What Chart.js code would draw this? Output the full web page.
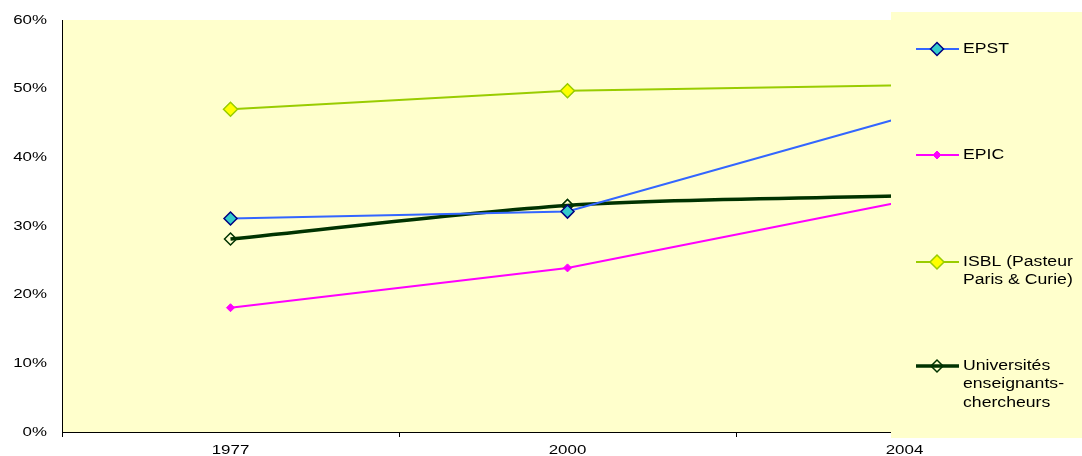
<!DOCTYPE html>
<html>
<head>
<meta charset="utf-8">
<script src="https://cdn.jsdelivr.net/npm/chart.js@4"></script>
<style>
  body { margin: 0; background: #fff; }
  #wrap { width: 1082px; height: 456px; }
</style>
</head>
<body>
<div id="wrap"><canvas id="chart" width="1082" height="456"></canvas></div>
<script>
const years = ["1977", "2000", "2004"]
const epst = [31.1, 32.1, 45.9]
const epic = [18.1, 23.9, 33.6]
const isbl = [47.0, 49.7, 50.5]
const universites = [28.1, 33.0, 34.4]
const yTicks = [0, 10, 20, 30, 40, 50, 60]
const legendLines = [
  ["EPST"],
  ["EPIC"],
  ["ISBL (Pasteur", "Paris & Curie)"],
  ["Universités", "enseignants-", "chercheurs"]
]

const font = "'Liberation Sans', Arial, sans-serif"

// the original text is stretched sideways, so widen every fillText a bit
const wideText = {
  id: "wideText",
  beforeInit(chart) {
    const ctx = chart.ctx
    const orig = ctx.fillText.bind(ctx)
    ctx.fillText = function (text, x, y) {
      ctx.save()
      ctx.translate(x, y)
      ctx.scale(ctx.wide || 1.3, 1)
      orig(text, 0, 0)
      ctx.restore()
    }
  }
}

const plotBg = {
  id: "plotBg",
  beforeDraw(chart) {
    const a = chart.chartArea
    const ctx = chart.ctx
    ctx.save()
    ctx.fillStyle = "#FFFFCC"
    ctx.fillRect(a.left, a.top, a.right - a.left, a.bottom - a.top)
    ctx.restore()
  }
}

const sideLegend = {
  id: "sideLegend",
  afterDraw(chart) {
    const ctx = chart.ctx
    const rows = [49, 155, 262, 366]
    ctx.save()
    ctx.fillStyle = "#FFFFCC"
    ctx.fillRect(891, 12, 191, 426)
    chart.data.datasets.forEach((ds, i) => {
      const y = rows[i]
      ctx.strokeStyle = ds.borderColor
      ctx.lineWidth = ds.borderWidth
      ctx.beginPath()
      ctx.moveTo(916, y)
      ctx.lineTo(959, y)
      ctx.stroke()
      ctx.fillStyle = ds.pointBackgroundColor
      ctx.strokeStyle = ds.pointBorderColor
      ctx.lineWidth = ds.pointBorderWidth
      Chart.helpers.drawPoint(ctx, {
        pointStyle: "rectRot",
        radius: ds.pointRadius,
        borderWidth: ds.pointBorderWidth
      }, 937, y)
      ctx.fillStyle = "#000"
      ctx.font = "14px " + font
      ctx.textBaseline = "middle"
      ctx.textAlign = "left"
      ctx.wide = 1.26
      legendLines[i].forEach((line, j) => {
        ctx.fillText(line, 963, y + j * 18.5)
      })
      ctx.wide = null
    })
    ctx.restore()
  }
}

const data = {
  labels: years,
  datasets: [
    {
      label: "EPST",
      data: epst,
      borderColor: "#3366FF",
      borderWidth: 2,
      pointStyle: "rectRot",
      pointRadius: 6.5,
      pointBackgroundColor: "#33CCCC",
      pointBorderColor: "#000080",
      pointBorderWidth: 1.5
    },
    {
      label: "EPIC",
      data: epic,
      borderColor: "#FF00FF",
      borderWidth: 2,
      pointStyle: "rectRot",
      pointRadius: 4,
      pointBackgroundColor: "#FF00FF",
      pointBorderColor: "#FF00FF",
      pointBorderWidth: 1
    },
    {
      label: "ISBL (Pasteur Paris & Curie)",
      data: isbl,
      borderColor: "#99CC00",
      borderWidth: 2,
      pointStyle: "rectRot",
      pointRadius: 7,
      pointBackgroundColor: "#FFFF00",
      pointBorderColor: "#99CC00",
      pointBorderWidth: 1.5
    },
    {
      label: "Universités enseignants-chercheurs",
      data: universites,
      borderColor: "#003300",
      borderWidth: 3.5,
      tension: 0.3,
      pointStyle: "rectRot",
      pointRadius: 6,
      pointBackgroundColor: "rgba(0,0,0,0)",
      pointBorderColor: "#003300",
      pointBorderWidth: 1.5
    }
  ]
}

const config = {
  type: "line",
  data: data,
  options: {
    responsive: false,
    animation: false,
    layout: { padding: { left: 0, right: 9, top: 20, bottom: 0 } },
    plugins: {
      legend: { display: false },
      tooltip: { enabled: false }
    },
    scales: {
      x: {
        offset: true,
        grid: {
          offset: true,
          drawOnChartArea: false,
          tickLength: 5,
          color: "#000"
        },
        border: { color: "#000", width: 1 },
        ticks: {
          color: "#000",
          padding: 6,
          maxRotation: 0,
          font: { family: font, size: 13 }
        },
        afterFit: (scale) => {
          scale.height = 24
          scale.paddingLeft = 0
          scale.paddingRight = 0
        }
      },
      y: {
        min: 0,
        max: 60,
        afterBuildTicks: (scale) => {
          scale.ticks = yTicks.map(v => ({ value: v }))
        },
        grid: { display: false, drawTicks: false },
        border: { color: "#000", width: 1 },
        ticks: {
          color: "#000",
          padding: 15,
          font: { family: font, size: 13 },
          callback: (v) => v + "%"
        },
        afterFit: (scale) => {
          scale.width = 62
          scale.paddingTop = 0
          scale.paddingBottom = 0
        }
      }
    }
  },
  plugins: [wideText, plotBg, sideLegend]
}

document.addEventListener("DOMContentLoaded", () => {
  new Chart(document.querySelector("#chart"), config)
})
</script>
</body>
</html>
